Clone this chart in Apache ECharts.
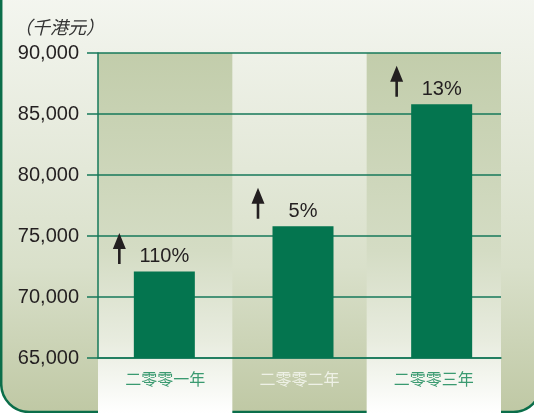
<!DOCTYPE html>
<html>
<head>
<meta charset="utf-8">
<script src="https://cdn.jsdelivr.net/npm/echarts@6/dist/echarts.min.js"></script>
<style>
  html, body { margin: 0; padding: 0; background: #ffffff; }
  #chart { width: 534px; height: 413px; }
</style>
</head>
<body>
<div id="chart"></div>
<script>
// 数据
const categories = ['二零零一年', '二零零二年', '二零零三年'];
const values = [72100, 75800, 85800];
const growth = ['110%', '5%', '13%'];
const yMin = 65000;
const yMax = 90000;
const yStep = 5000;

const green = '#04754f';
const lineGreen = '#16785a';

// 上箭头
const arrowPath = 'path://M6.5,0 L13,16 L7.8,16 L7.8,31 L5.2,31 L5.2,16 L0,16 Z';

function initChart() {
    const myChart = echarts.init(document.getElementById('chart'), null, { renderer: 'canvas' });

    const bgGradient = new echarts.graphic.LinearGradient(0, 0, 0, 1, [
        { offset: 0, color: '#f4f6f0' },
        { offset: 0.3, color: '#e8ecdf' },
        { offset: 0.65, color: '#d9e0ca' },
        { offset: 1, color: '#bfc8a4' }
    ]);
    const bandGradient = new echarts.graphic.LinearGradient(0, 0, 0, 1, [
        { offset: 0, color: '#c2cdab' },
        { offset: 0.55, color: '#d4dcc4' },
        { offset: 0.8, color: '#e8ecdf' },
        { offset: 1, color: '#ffffff' }
    ]);

    const option = {
        animation: false,
        backgroundColor: '#ffffff',
        // 背景圆角框
        graphic: [
            {
                type: 'rect',
                z: -10,
                shape: { x: 1.2, y: -5, width: 540, height: 417, r: [0, 0, 28, 28] },
                style: { fill: bgGradient, stroke: '#0b6e4a', lineWidth: 2.5 }
            }
        ],
        title: {
            text: '（千港元）',
            left: 9,
            top: 13,
            textStyle: {
                color: '#333333',
                fontSize: 18,
                fontStyle: 'italic',
                fontWeight: 'normal',
                fontFamily: 'Noto Sans CJK SC'
            }
        },
        grid: [
            { left: 98, right: 33, top: 53, bottom: 55 },   // 坐标轴与网格线
            { left: 98, right: 33, top: 53, bottom: 0 },    // 背景竖条
            { left: 95, right: 23, top: 53, bottom: 55 }    // 柱子
        ],
        xAxis: [
            {
                type: 'category',
                gridIndex: 0,
                z: 2,
                data: categories,
                axisLine: { lineStyle: { color: lineGreen, width: 1.5 } },
                axisTick: { show: false },
                axisLabel: {
                    margin: 13,
                    fontSize: 16,
                    fontFamily: 'Noto Sans CJK SC',
                    color: (val, idx) => (idx === 1 ? '#eef1e6' : '#3a9a70')
                },
                splitLine: { show: false }
            },
            {
                type: 'category',
                gridIndex: 1,
                z: 1,
                data: categories,
                axisLine: { show: false },
                axisTick: { show: false },
                axisLabel: { show: false },
                splitLine: { show: false },
                splitArea: {
                    show: true,
                    areaStyle: { color: [bandGradient, 'rgba(0,0,0,0)'] }
                }
            },
            {
                type: 'category',
                gridIndex: 2,
                data: categories,
                show: false
            }
        ],
        yAxis: [
            {
                type: 'value',
                gridIndex: 0,
                z: 2,
                min: yMin,
                max: yMax,
                interval: yStep,
                axisLine: { show: true, lineStyle: { color: lineGreen, width: 1.5 } },
                axisTick: { show: true, length: 11, lineStyle: { color: lineGreen, width: 1.5 } },
                axisLabel: {
                    margin: 19,
                    fontSize: 20,
                    color: '#231f20',
                    fontFamily: 'Liberation Sans',
                    formatter: v => v.toLocaleString('en-US')
                },
                splitLine: { lineStyle: { color: lineGreen, width: 1.5 } }
            },
            { type: 'value', gridIndex: 1, show: false },
            { type: 'value', gridIndex: 2, min: yMin, max: yMax, interval: yStep, show: false }
        ],
        series: [
            {
                type: 'bar',
                xAxisIndex: 2,
                yAxisIndex: 2,
                z: 3,
                data: values,
                barWidth: 61,
                itemStyle: { color: green },
                label: {
                    show: true,
                    position: 'top',
                    distance: 5,
                    fontSize: 20,
                    color: '#231f20',
                    fontFamily: 'Liberation Sans',
                    formatter: p => growth[p.dataIndex]
                },
                markPoint: {
                    symbol: arrowPath,
                    symbolSize: [13, 31],
                    symbolOffset: [-45, -23],
                    itemStyle: { color: '#231f20' },
                    label: { show: false },
                    data: categories.map((c, i) => ({ coord: [c, values[i]] }))
                }
            }
        ]
    };

    myChart.setOption(option);
    window.addEventListener('resize', () => myChart.resize());
}

window.onload = initChart;
</script>
</body>
</html>
